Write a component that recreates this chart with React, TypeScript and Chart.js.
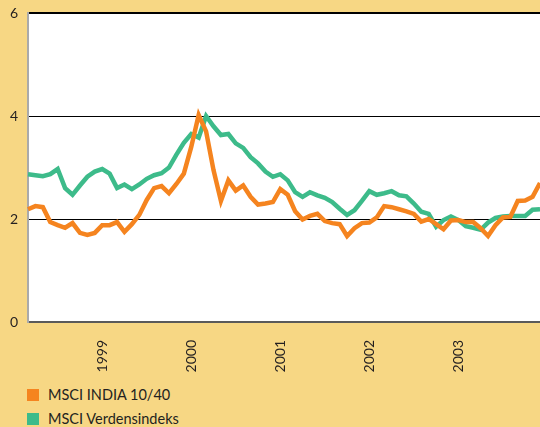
import React, { useEffect, useRef } from "react";
import { Chart, registerables } from "chart.js";

Chart.register(...registerables);

const MONTHS = ["Jan", "Feb", "Mar", "Apr", "May", "Jun", "Jul", "Aug", "Sep", "Oct", "Nov", "Dec"];
const categories: string[] = [];
for (let y = 1998; y <= 2003; y++) {
  for (let m = 0; m < 12; m++) {
    if (y === 1998 && m < 2) continue;
    categories.push(`${MONTHS[m]} ${y}`);
  }
}

const seriesNames = ["MSCI INDIA 10/40", "MSCI Verdensindeks"];

const india = [
  2.19, 2.25, 2.23, 1.94, 1.88, 1.83, 1.92, 1.73, 1.69, 1.73,
  1.88, 1.88, 1.94, 1.75, 1.9, 2.08, 2.37, 2.6, 2.64, 2.5,
  2.68, 2.88, 3.4, 4.02, 3.7, 2.95, 2.35, 2.75, 2.55, 2.65,
  2.43, 2.28, 2.3, 2.33, 2.58, 2.47, 2.15, 1.99, 2.06, 2.1,
  1.96, 1.92, 1.9, 1.67, 1.82, 1.92, 1.93, 2.03, 2.25, 2.23,
  2.19, 2.15, 2.1, 1.95, 2.0, 1.9, 1.8, 1.97, 1.98, 1.94,
  1.94, 1.82, 1.67, 1.88, 2.03, 2.04, 2.35, 2.36, 2.43, 2.7,
];

const world = [
  2.87, 2.85, 2.83, 2.87, 2.97, 2.6, 2.47, 2.65, 2.82, 2.92,
  2.97, 2.88, 2.6, 2.67, 2.58, 2.67, 2.78, 2.85, 2.89, 3.0,
  3.25, 3.48, 3.65, 3.58, 4.0, 3.8, 3.63, 3.65, 3.47, 3.38,
  3.2, 3.08, 2.92, 2.82, 2.87, 2.75, 2.52, 2.43, 2.52, 2.46,
  2.41, 2.33, 2.2, 2.08, 2.17, 2.35, 2.54, 2.47, 2.5, 2.54,
  2.46, 2.44, 2.3, 2.14, 2.1, 1.85, 1.98, 2.05, 1.98, 1.86,
  1.83, 1.79, 1.93, 2.02, 2.05, 2.06, 2.06, 2.06, 2.18, 2.19,
];

const colors = ["#F5841F", "#3DBB8A"];
const FONT = "Lato, 'DejaVu Sans', sans-serif";

export default function App() {
  const ref = useRef<HTMLCanvasElement>(null);
  useEffect(() => {
    if (!ref.current) return;
    const chart = new Chart(ref.current, {
      type: "line",
      data: {
        labels: categories,
        datasets: [
          { label: seriesNames[0], data: india, borderColor: colors[0], backgroundColor: colors[0], borderWidth: 4.5, pointRadius: 0, tension: 0 },
          { label: seriesNames[1], data: world, borderColor: colors[1], backgroundColor: colors[1], borderWidth: 4.5, pointRadius: 0, tension: 0 },
        ],
      },
      options: {
        animation: false,
        responsive: false,
        layout: { padding: { top: 13, left: 0, right: 0, bottom: 0 } },
        plugins: { legend: { display: false }, tooltip: { enabled: false } },
        scales: {
          x: {
            grid: { display: false, drawTicks: false },
            border: { display: true, color: "#5a5a5a", width: 2 },
            ticks: {
              autoSkip: false,
              minRotation: 90,
              maxRotation: 90,
              padding: 18,
              color: "#231F20",
              font: { family: FONT, size: 14 },
              callback: function (this: any, value: any) {
                const lab: string = categories[value as number];
                return lab.startsWith("Jan") ? lab.slice(4) : "";
              },
            },
            afterFit: (s: any) => {
              s.height = 58;
              s.paddingLeft = 0;
              s.paddingRight = 0;
            },
          },
          y: {
            min: 0,
            max: 6,
            grid: { color: "#000", lineWidth: (c: any) => (c.tick && c.tick.value === 6 ? 2 : 1), drawTicks: false },
            border: { display: true, color: "#aaaaaa", width: 2 },
            ticks: { stepSize: 2, padding: 10, color: "#231F20", font: { family: FONT, size: 14 } },
            afterFit: (s: any) => {
              s.width = 28;
              s.paddingTop = 0;
              s.paddingBottom = 0;
            },
          },
        },
      },
      plugins: [
        {
          id: "plotbg",
          beforeDraw: (c: any) => {
            const a = c.chartArea;
            c.ctx.save();
            c.ctx.fillStyle = "#ffffff";
            c.ctx.fillRect(a.left, a.top, a.right - a.left, a.bottom - a.top);
            c.ctx.restore();
          },
        },
      ],
    });
    return () => chart.destroy();
  }, []);

  return (
    <div style={{ position: "fixed", left: 0, top: 0, width: 540, height: 427, background: "#F7D784", fontFamily: FONT, overflow: "hidden" }}>
      <canvas ref={ref} width={540} height={380} style={{ display: "block" }} />
      {seriesNames.map((n, i) => (
        <div key={n} style={{ position: "absolute", left: 27, top: 388 + i * 24, height: 14, display: "flex", alignItems: "center" }}>
          <span style={{ display: "inline-block", width: 12, height: 12, background: colors[i], marginRight: 9 }} />
          <span style={{ fontSize: 14.5, color: "#231F20", lineHeight: "14px" }}>{n}</span>
        </div>
      ))}
    </div>
  );
}
